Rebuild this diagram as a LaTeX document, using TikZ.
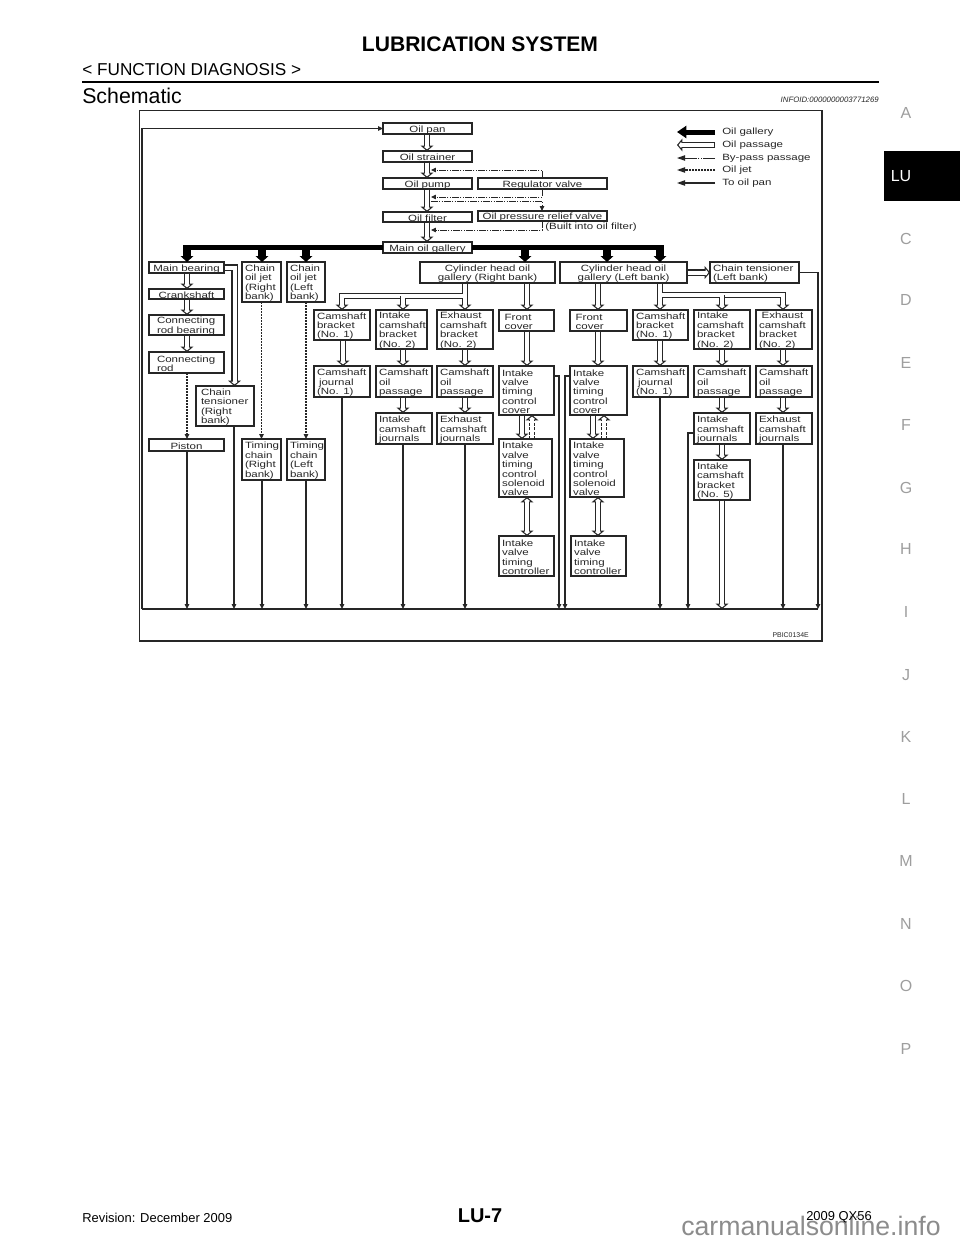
\documentclass[tikz,border=0pt]{standalone}
\usepackage{fontspec}
\setmainfont{Liberation Sans}
\newfontfamily\dfont[FakeStretch=1.27]{Liberation Sans}
\usetikzlibrary{arrows.meta,calc}
\definecolor{ink}{gray}{0.15}
\definecolor{tabgray}{gray}{0.62}
\definecolor{markgray}{gray}{0.55}
\tikzset{
  holl/.tip={Triangle[open,fill=white,width=9.5pt,length=4pt,line width=.8pt]},
  bx/.style={draw=ink,line width=.95pt,fill=white,inner sep=0pt},
  bxt/.style={inner sep=0pt,outer sep=0pt,yshift=-.9pt,font=\dfont\fontsize{6.8}{7.05}\selectfont,text=ink},
  passage/.style={draw=ink,line width=4.8pt,-{holl},postaction={draw=white,solid,line width=3pt,arrows=-,shorten >=2.4pt,shorten <=.5pt}},
  passboth/.style={draw=ink,line width=4.8pt,{holl}-{holl},postaction={draw=white,solid,line width=3pt,arrows=-,shorten >=2.4pt,shorten <=2.4pt}},
  patch/.style={white,line width=3pt},
  gallery/.style={black,line width=3.75pt},
  galleryarrow/.style={black,line width=5.5pt,-{Triangle[width=9.5pt,length=4.5pt]}},
  bypass/.style={ink,line width=.7pt,dash pattern=on 5.25pt off .9pt on .9pt off .9pt on .9pt off .9pt},
  jet/.style={ink,line width=.8pt,dash pattern=on 1.35pt off .9pt},
  drainline/.style={ink,line width=.8pt},
  tip/.style={-{Triangle[width=3.2pt,length=3.6pt]}},
  bigtip/.style={-{Triangle[width=4pt,length=6pt]}},
  lab/.style={inner sep=0pt,font=\dfont\fontsize{6.8}{7.05}\selectfont,text=ink,anchor=west},
  tabl/.style={font=\fontsize{12}{14}\selectfont,text=tabgray,inner sep=0pt},
  px/.style={x=0.75pt,y=-0.75pt}
}
% name, x0,y0,x1,y1, text  (left aligned)
\newcommand\bx[6]{%
  \pgfmathsetlengthmacro\bw{(#4-#2-6)*0.75pt}%
  \pgfmathsetlengthmacro\bmw{(#4-#2)*0.75pt}%
  \pgfmathsetlengthmacro\bmh{(#5-#3)*0.75pt}%
  \node[bx,minimum width=\bmw,minimum height=\bmh,outer sep=0pt] (#1) at ({(#2+#4)/2},{(#3+#5)/2}) {};
  \node[bxt,text width=\bw,align=left] (#1-t) at (#1.center) {#6};}
% centred
\newcommand\cx[6]{%
  \pgfmathsetlengthmacro\bw{(#4-#2-2)*0.75pt}%
  \pgfmathsetlengthmacro\bmw{(#4-#2)*0.75pt}%
  \pgfmathsetlengthmacro\bmh{(#5-#3)*0.75pt}%
  \node[bx,minimum width=\bmw,minimum height=\bmh,outer sep=0pt] (#1) at ({(#2+#4)/2},{(#3+#5)/2}) {};
  \node[bxt,text width=\bw,align=center] (#1-t) at (#1.center) {#6};}
% from, to, x
\newcommand\vp[3]{\draw[passage] (#1.south -| #3,0) -- (#2.north -| #3,0);}
\newcommand\drain[3]{\draw[drainline,tip] (#1.south -| #3,0) -- (#3,609);}
\begin{document}
\begin{tikzpicture}[px]
\useasboundingbox (0,0) rectangle (960,1242);
\fill[white] (0,0) rectangle (960,1242);
% page furniture
\node[font=\bfseries\fontsize{15.8}{18}\selectfont,inner sep=0pt] (title) at (480,44) {LUBRICATION SYSTEM};
\node[font=\fontsize{12.9}{15}\selectfont,inner sep=0pt,anchor=west] (sect) at (82,70) {< FUNCTION DIAGNOSIS >};
\draw[black,line width=1.6pt] (82,82) -- (879,82);
\node[font=\fontsize{16}{18}\selectfont,inner sep=0pt,anchor=west] (schem) at (82,96) {Schematic};
\node[font=\itshape\fontsize{5.85}{7}\selectfont,inner sep=0pt,anchor=east,text=ink] (info) at (879,100) {INFOID:0000000003771269};
\fill[black] (884,150.5) rectangle (960,200.5);
\node[font=\fontsize{12}{14}\selectfont,text=white,inner sep=0pt] (tLU) at (901,176) {LU};
\foreach \l/\yy in {A/113,C/239,D/300,E/363,F/425,G/488,H/549,I/612,J/675,K/737,L/799,M/861,N/924,O/986,P/1049}
  \node[tabl] (t\l) at (906,\yy) {\l};
\node[font=\bfseries\fontsize{15}{17}\selectfont,inner sep=0pt] (pg) at (480,1216) {LU-7};
\node[font=\fontsize{9.7}{11}\selectfont,inner sep=0pt,anchor=west] (rev) at (82,1218) {Revision: December 2009};
\node[font=\fontsize{20}{23}\selectfont,inner sep=0pt,anchor=west,text=markgray] (mark) at (681,1226) {carmanualsonline.info};
\node[font=\fontsize{9.7}{11}\selectfont,inner sep=0pt,anchor=east] (qx) at (872,1217) {2009 QX56};
% frame
\draw[ink,line width=1.05pt] (139.5,110.5) rectangle (822,641);
\node[inner sep=0pt,anchor=east,font=\fontsize{5.2}{6}\selectfont,text=ink] (code) at (809,635) {PBIC0134E};
% column 1
\cx{pan}{383}{123}{472}{134}{Oil pan}
\cx{strainer}{383}{151}{472}{162}{Oil strainer}
\cx{pump}{383}{178}{472}{189}{Oil pump}
\cx{reg}{478}{178}{607}{189}{Regulator valve}
\cx{filter}{383}{212}{472}{222}{Oil filter}
\cx{relief}{478}{211}{607}{221}{Oil pressure relief valve}
\cx{maing}{383}{242}{472}{253}{Main oil gallery}
\cx{mainb}{149}{262}{224}{273}{Main bearing}
\cx{crank}{149}{289}{224}{299}{Crankshaft}
\bx{crb}{149}{315}{224}{335}{\hspace*{3.75pt}Connecting\\\hspace*{3.75pt}rod bearing}
\bx{cr}{149}{352}{224}{373}{\hspace*{3.75pt}Connecting\\\hspace*{3.75pt}rod}
\bx{jetR}{242}{262}{281}{302}{Chain\\oil jet\\(Right\\bank)}
\bx{jetL}{287}{262}{325}{302}{Chain\\oil jet\\(Left\\bank)}
\cx{cylR}{420}{262}{555}{283}{Cylinder head oil\\gallery (Right bank)}
\cx{cylL}{560}{262}{687}{283}{Cylinder head oil\\gallery (Left bank)}
\bx{tensL}{710}{262}{799}{283}{Chain tensioner\\(Left bank)}
\bx{brR}{314}{310}{370}{340}{Camshaft\\bracket\\(No. 1)}
\bx{inR}{376}{310}{427}{349}{Intake\\camshaft\\bracket\\(No. 2)}
\bx{exR}{437}{310}{493}{349}{Exhaust\\camshaft\\bracket\\(No. 2)}
\bx{fcR}{499}{310}{554}{331}{\hspace*{2pt}Front\\\hspace*{2pt}cover}
\bx{fcL}{570}{310}{627}{331}{\hspace*{2pt}Front\\\hspace*{2pt}cover}
\bx{brL}{633}{310}{688}{340}{Camshaft\\bracket\\(No. 1)}
\bx{inL}{694}{310}{750}{349}{Intake\\camshaft\\bracket\\(No. 2)}
\bx{exL}{756}{310}{812}{349}{\hspace*{2pt}Exhaust\\camshaft\\bracket\\(No. 2)}
\bx{jrR}{314}{366}{370}{397}{Camshaft\\\hspace*{1.5pt}journal\\(No. 1)}
\bx{paR}{376}{366}{432}{397}{Camshaft\\oil\\passage}
\bx{peR}{437}{366}{493}{397}{Camshaft\\oil\\passage}
\bx{cvR}{499}{366}{554}{415}{Intake\\valve\\timing\\control\\cover}
\bx{cvL}{570}{366}{627}{415}{Intake\\valve\\timing\\control\\cover}
\bx{jrL}{633}{366}{688}{397}{Camshaft\\\hspace*{1.5pt}journal\\(No. 1)}
\bx{paL}{694}{366}{750}{397}{Camshaft\\oil\\passage}
\bx{peL}{756}{366}{812}{397}{Camshaft\\oil\\passage}
\bx{ijR}{376}{413}{432}{444}{Intake\\camshaft\\journals}
\bx{ejR}{437}{413}{493}{444}{Exhaust\\camshaft\\journals}
\bx{ijL}{694}{413}{750}{444}{Intake\\camshaft\\journals}
\bx{ejL}{756}{413}{812}{444}{Exhaust\\camshaft\\journals}
\bx{tensR}{196}{386}{254}{426}{\hspace*{1.5pt}Chain\\\hspace*{1.5pt}tensioner\\\hspace*{1.5pt}(Right\\\hspace*{1.5pt}bank)}
\cx{piston}{149}{439}{224}{451}{Piston}
\bx{tcR}{242}{439}{281}{480}{Timing\\chain\\(Right\\bank)}
\bx{tcL}{287}{439}{325}{480}{Timing\\chain\\(Left\\bank)}
\bx{solR}{499}{439}{552}{497}{Intake\\valve\\timing\\control\\solenoid\\valve}
\bx{solL}{570}{439}{624}{497}{Intake\\valve\\timing\\control\\solenoid\\valve}
\bx{ctR}{499}{536}{554}{576}{Intake\\valve\\timing\\controller}
\bx{ctL}{571}{536}{626}{576}{Intake\\valve\\timing\\controller}
\bx{br5}{694}{460}{750}{500}{Intake\\camshaft\\bracket\\(No. 5)}
\node[lab] (built) at (545,227) {(Built into oil filter)};
% main chain
\vp{pan}{strainer}{427}
\vp{strainer}{pump}{427}
\vp{pump}{filter}{427}
\vp{filter}{maing}{427}
% by-pass
\draw[bypass,tip] (reg.north -| 542,0) -- (542,170) -- (431,170);
\draw[bypass,tip] (reg.south -| 542,0) -- (542,197) -- (431,197);
\draw[bypass,tip] (431,201) -- (542,201) -- (relief.north -| 542,0);
\draw[bypass,tip] (relief.south -| 542,0) -- (542,230) -- (431,230);
% gallery
\draw[gallery] (maing.west |- 0,247) -- (185.1,247);
\draw[gallery] (maing.east |- 0,247) -- (661.9,247);
\foreach \gx/\gt in {187/mainb,262/jetR,306/jetL,525/cylR,607/cylL,660/cylL}
  \draw[galleryarrow] (\gx,245) -- (\gt.north -| \gx,0);
% left column
\vp{mainb}{crank}{187}
\vp{crank}{crb}{187}
\vp{crb}{cr}{187}
\draw[passage] (mainb.east) -- (234.5,267.5) -- (tensR.north -| 234.5,0);
\draw[jet,tip] (cr.south -| 187,0) -- (piston.north -| 187,0);
\draw[jet,tip] (jetR) -- (tcR);
\draw[jet,tip] (jetL) -- (tcL);
% right bank
\draw[passage] (cylR.south -| 465,0) -- (exR.north -| 465,0);
\draw[passage] (465,296) -- (342,296) -- (brR.north -| 342,0);
\draw[passage] (403,296) -- (inR.north -| 403,0);
\draw[patch] (465,285) -- (465,300);
\draw[patch] (403,296) -- (403,301);
\draw[patch] (403,296) -- (465,296);
\vp{cylR}{fcR}{527}
\vp{fcR}{cvR}{527}
\vp{brR}{jrR}{343}
\vp{inR}{paR}{403}
\vp{exR}{peR}{465}
\vp{paR}{ijR}{403}
\vp{peR}{ejR}{465}
% left bank
\vp{cylL}{fcL}{598}
\vp{fcL}{cvL}{598}
\draw[passage] (cylL.east) -- (tensL.west);
\draw[passage] (cylL.south -| 660,0) -- (brL.north -| 660,0);
\draw[passage] (660,295) -- (783,295) -- (exL.north -| 783,0);
\draw[passage] (722,295) -- (inL.north -| 722,0);
\draw[patch] (660,285) -- (660,299);
\draw[patch] (722,295) -- (722,300);
\draw[patch] (660,295) -- (722,295);
\vp{brL}{jrL}{660}
\vp{inL}{paL}{722}
\vp{exL}{peL}{783}
\vp{paL}{ijL}{722}
\vp{peL}{ejL}{783}
\vp{ijL}{br5}{722}
% solenoids
\vp{cvR}{solR}{522}
\vp{cvL}{solL}{593}
\draw[passage,dash pattern=on 2.25pt off 1.1pt] (solR.north -| 532,0) -- (cvR.south -| 532,0);
\draw[passage,dash pattern=on 2.25pt off 1.1pt] (solL.north -| 604,0) -- (cvL.south -| 604,0);
\draw[passboth] (solR.south -| 527,0) -- (ctR.north -| 527,0);
\draw[passboth] (solL.south -| 598,0) -- (ctL.north -| 598,0);
% to oil pan
\draw[drainline,line width=1pt,tip] (142,609) -- (pan.west -| 142,0) -- (pan.west);
\draw[drainline,line width=1pt] (142,609) -- (818,609);
\drain{piston}{}{187}
\drain{tensR}{}{234}
\drain{tcR}{}{262}
\drain{tcL}{}{306}
\drain{jrR}{}{342}
\drain{ijR}{}{403}
\drain{ejR}{}{465}
\drain{jrL}{}{660}
\drain{ejL}{}{783}
\draw[drainline,tip] (cvR.east |- 0,376) -- (559,376) -- (559,609);
\draw[drainline,tip] (cvL.west |- 0,376) -- (565,376) -- (565,609);
\draw[drainline,tip] (ijL.west |- 0,433) -- (688,433) -- (688,609);
\draw[drainline,tip] (tensL.east) -- (818,272.5) -- (818,609);
\draw[passage] (br5.south -| 722,0) -- (722,609);
% legend
\coordinate (l1) at (715,132);
\coordinate (l2) at (715,145);
\coordinate (l3) at (715,158);
\coordinate (l4) at (715,170);
\coordinate (l5) at (715,183);
\draw[black,line width=3.75pt,-{Triangle[width=9pt,length=7pt]}] (l1) -- ++(-38,0);
\draw[passage] (l2) -- ++(-38,0);
\draw[bypass,bigtip,dash pattern=on 9pt off .9pt on .9pt off .9pt on .9pt off .9pt] (l3) -- ++(-38,0);
\draw[jet,bigtip] (l4) -- ++(-38,0);
\draw[drainline,bigtip] (l5) -- ++(-38,0);
\node[lab] (t1) at (722,132) {Oil gallery};
\node[lab] (t2) at (722,145) {Oil passage};
\node[lab] (t3) at (722,158) {By-pass passage};
\node[lab] (t4) at (722,170) {Oil jet};
\node[lab] (t5) at (722,183) {To oil pan};
\end{tikzpicture}
\end{document}
